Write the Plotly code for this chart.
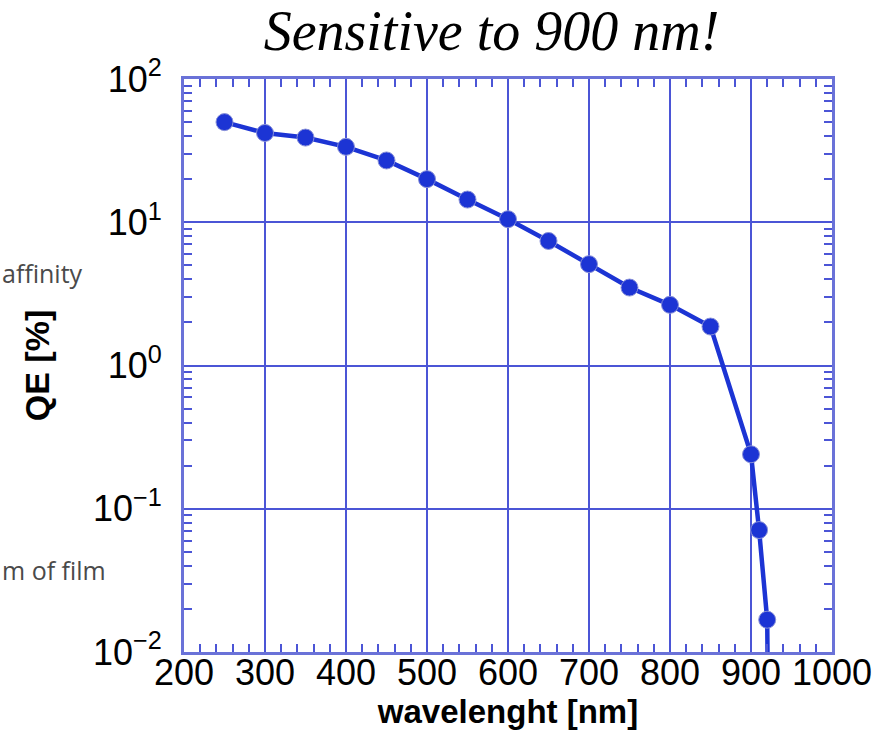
import plotly.graph_objects as go

wavelength = [250, 300, 350, 400, 450, 500, 550, 600, 650, 700, 750, 800, 850, 900, 910, 920, 922]
qe = [50, 42, 39, 33.6, 27, 20, 14.4, 10.5, 7.4, 5.1, 3.5, 2.65, 1.87, 0.24, 0.071, 0.0168, 0.001]

x_ticks = [200, 300, 400, 500, 600, 700, 800, 900, 1000]
y_ticks = [0.01, 0.1, 1, 10, 100]
y_ticktext = ["10<sup>\u22122</sup>", "10<sup>\u22121</sup>", "10<sup>0</sup>", "10<sup>1</sup>", "10<sup>2</sup>"]

x_minor = [v for v in range(200, 1001, 20) if v % 100 != 0]
y_minor = [m * 10 ** e for e in range(-2, 2) for m in range(2, 10)]

GRID = "#4b55d6"
LINE = "#1c34d4"

W, H = 891, 751
ML, MR, MT, MB = 184, 59, 79, 99

fig = go.Figure()
fig.add_trace(go.Scatter(
    x=wavelength, y=qe, mode="lines+markers",
    line=dict(color=LINE, width=4.5),
    marker=dict(color=LINE, size=17, line=dict(color="#8890d8", width=1)),
    cliponaxis=True, showlegend=False,
))

fig.update_layout(
    width=W, height=H,
    margin=dict(l=ML, r=MR, t=MT, b=MB),
    paper_bgcolor="white", plot_bgcolor="white",
    title=dict(text="Sensitive to 900 nm!", x=(255 + 728) / 2 / W, xanchor="center",
               y=1 - 11 / H, yanchor="top", yref="container",
               font=dict(family="Liberation Serif", size=56, color="black", style="italic")),
    xaxis=dict(
        range=[200, 1000], tickvals=x_ticks, ticktext=[str(v) for v in x_ticks],
        showgrid=True, gridcolor=GRID, gridwidth=2,
        showline=True, linecolor="#6a72d8", linewidth=3, mirror="ticks",
        ticks="", tickfont=dict(family="Liberation Sans", size=36, color="black"),
        ticklabelstandoff=-13,
        minor=dict(tickvals=x_minor, ticks="inside", ticklen=8, tickwidth=2, tickcolor=GRID, showgrid=False),
        title=dict(text="<b>wavelenght [nm]</b>", font=dict(family="Liberation Sans", size=33, color="black"), standoff=6),
        zeroline=False,
    ),
    yaxis=dict(
        type="log", range=[-2, 2], tickvals=y_ticks, ticktext=y_ticktext,
        showgrid=True, gridcolor=GRID, gridwidth=2,
        showline=True, linecolor="#6a72d8", linewidth=3, mirror="ticks",
        ticks="", tickfont=dict(family="Liberation Sans", size=36, color="black"),
        ticklabelstandoff=12,
        minor=dict(tickvals=y_minor, ticks="inside", ticklen=8, tickwidth=2, tickcolor=GRID, showgrid=False),
        title=dict(text="<b>QE [%]</b>", font=dict(family="Liberation Sans", size=34, color="black"), standoff=34),
        zeroline=False,
    ),
)

pw, ph = W - ML - MR, H - MT - MB
def px(xp):
    return (xp - ML) / pw
def py(yp):
    return (H - MB - yp) / ph

fig.add_annotation(text="affinity", xref="paper", yref="paper", x=px(0), y=py(273), showarrow=False,
                   xanchor="left", yanchor="middle", font=dict(family="Open Sans", size=25, color="#4a4a4a"))
fig.add_annotation(text="m of film", xref="paper", yref="paper", x=px(0), y=py(570), showarrow=False,
                   xanchor="left", yanchor="middle", font=dict(family="Open Sans", size=25, color="#4a4a4a"))

fig.write_html("out.html")
